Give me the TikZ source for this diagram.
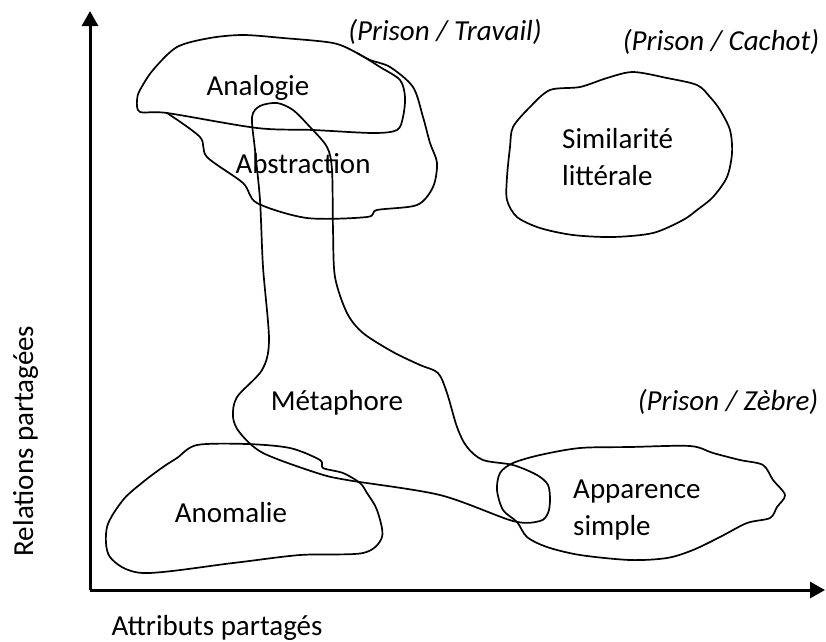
\documentclass[tikz,border=0pt]{standalone}
\usepackage{fontspec}
\setmainfont{Carlito}
\usetikzlibrary{arrows.meta}

\tikzset{
  blob/.style={line width=1.7pt, line join=round},
  axisArrow/.style={line width=3pt, -{Triangle[length=15pt,width=16pt]}},
  zoneText/.style={font=\fontsize{29}{37}\selectfont, inner sep=0pt, align=left},
  pairText/.style={font=\fontsize{29}{37}\selectfont\itshape, inner sep=0pt},
}

\begin{document}
\begin{tikzpicture}[x=1pt, y=-1pt]
  \useasboundingbox (0,0) rectangle (826,641);
  % Axes
  \coordinate (origin) at (90,590);
  \coordinate (yTip) at (90,11);
  \coordinate (xTip) at (825,590);
  \draw[axisArrow] (origin) -- (yTip);
  \draw[axisArrow] (origin) -- (xTip);
  \node[zoneText, anchor=base, rotate=90] (yLabel) at (33,441) {Relations partagées};
  \node[zoneText, anchor=base] (xLabel) at (217,635) {Attributs partagés};
  % Analogie
  \draw[blob] plot[smooth cycle, tension=0.5] coordinates {
    (140,90) (153,70) (177,47) (210,38) (243,35) (283,38) (333,43) (357,53)
    (380,67) (400,80) (405,97) (403,117) (397,130) (373,133) (313,130)
    (257,128) (167,113) (140,112) (137,100)};
  % Abstraction
  \draw[blob] plot[smooth, tension=0.5] coordinates {
    (167,113) (200,137) (207,157) (243,183) (257,203) (307,218) (367,217)
    (377,210) (417,205) (433,187) (437,163) (430,143) (423,117) (413,87)
    (390,67) (370,60) (357,53)};
  % Metaphore
  \draw[blob] plot[smooth cycle, tension=0.5] coordinates {
    (277,103) (293,110) (310,127) (327,147) (332,170) (333,230) (335,277)
    (347,313) (363,333) (393,352) (420,365) (438,373) (447,393) (457,427)
    (467,447) (483,460) (513,465) (537,475) (548,485) (550,500) (548,513)
    (540,521) (513,521) (440,495) (347,480) (317,473) (263,453) (240,433)
    (233,417) (237,397) (262,370) (269,340) (263,267) (260,200) (255,150)
    (252,117) (260,106)};
  % Similarite
  \draw[blob] plot[smooth cycle, tension=0.5] coordinates {
    (550,90) (580,87) (607,78) (633,72) (667,78) (697,85) (710,97) (720,110)
    (730,130) (732,153) (727,177) (713,197) (697,210) (683,220) (653,233)
    (613,237) (573,235) (540,228) (517,217) (507,200) (507,177) (510,147)
    (513,127) (530,107)};
  % Anomalie
  \draw[blob] plot[smooth cycle, tension=0.5] coordinates {
    (197,445) (247,444) (290,448) (320,460) (323,468) (343,473) (360,483)
    (367,493) (377,510) (382,537) (363,553) (300,555) (233,563) (143,573)
    (110,557) (107,527) (123,500) (143,482) (163,467) (177,458)};
  % Apparence
  \draw[blob] plot[smooth cycle, tension=0.5] coordinates {
    (497,490) (500,473) (513,463) (540,455) (580,448) (630,447) (690,446)
    (713,453) (740,460) (763,465) (773,480) (785,495) (777,507) (770,518)
    (747,523) (720,537) (693,550) (667,558) (630,560) (580,555) (547,547)
    (527,537) (517,522) (503,510)};
  % Labels
  \node[zoneText, anchor=base] (analogie) at (258,95) {Analogie};
  \node[zoneText, anchor=base] (abstraction) at (303,173) {Abstraction};
  \node[zoneText, anchor=base west] (similarite) at (562,185) {Similarité\\littérale};
  \node[zoneText, anchor=base] (metaphore) at (337,410) {Métaphore};
  \node[zoneText, anchor=base] (anomalie) at (231,522) {Anomalie};
  \node[zoneText, anchor=base west] (apparence) at (573,535) {Apparence\\simple};
  \node[pairText, anchor=base] (travail) at (445,40) {(Prison / Travail)};
  \node[pairText, anchor=base] (cachot) at (721,50) {(Prison / Cachot)};
  \node[pairText, anchor=base] (zebre) at (728,410) {(Prison / Zèbre)};
\end{tikzpicture}
\end{document}
